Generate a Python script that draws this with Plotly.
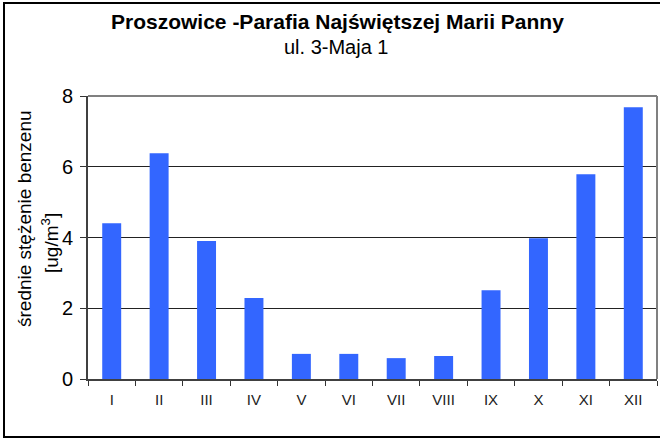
import plotly.graph_objects as go

months = ["I", "II", "III", "IV", "V", "VI", "VII", "VIII", "IX", "X", "XI", "XII"]
benzene = [4.40, 6.38, 3.90, 2.29, 0.71, 0.71, 0.59, 0.65, 2.51, 3.98, 5.79, 7.68]
y_ticks = [0, 2, 4, 6, 8]

title_main = "Proszowice -Parafia Najświętszej Marii Panny"
title_sub = "ul. 3-Maja 1"
y_title_1 = "średnie stężenie benzenu"
y_title_2 = "[ug/m<sup>3</sup>]"

FONT = "Liberation Sans, Arial, sans-serif"

fig = go.Figure(go.Bar(x=months, y=benzene, marker=dict(color="#3366FF", line=dict(width=0)),
                       width=0.4))

W, H = 660, 438
L, R, T, B = 88, 3, 96, 59
pw = W - L - R
ph = H - T - B

def px(x):
    return (x - L) / pw

def py(y):
    return (H - B - y) / ph

fig.update_layout(
    width=W, height=H,
    margin=dict(l=L, r=R, t=T, b=B),
    paper_bgcolor="white", plot_bgcolor="white",
    showlegend=False,
    font=dict(family=FONT, color="black"),
    xaxis=dict(
        type="category", tickson="boundaries", ticks="outside", ticklen=5,
        tickcolor="#333333", tickwidth=1,
        showline=True, linecolor="#404040", linewidth=2,
        showgrid=False, tickfont=dict(size=15, family=FONT, color="#222222"),
        range=[-0.5, 11.5], ticklabelstandoff=6,
    ),
    yaxis=dict(
        range=[0, 8], tickvals=y_ticks, ticks="outside", ticklen=6,
        tickcolor="#333333", tickwidth=1,
        showline=True, linecolor="#404040", linewidth=2,
        showgrid=True, gridcolor="#222222", gridwidth=1,
        tickfont=dict(size=20, family=FONT), zeroline=False,
        ticklabelstandoff=3,
    ),
    shapes=[
        dict(type="line", xref="paper", yref="paper", x0=0, x1=1, y0=1, y1=1,
             line=dict(color="#808080", width=2)),
        dict(type="line", xref="paper", yref="paper", x0=1, x1=1, y0=0, y1=1,
             line=dict(color="#808080", width=2)),
        dict(type="rect", xref="paper", yref="paper",
             x0=px(4), x1=px(665), y0=py(437), y1=py(3),
             line=dict(color="black", width=2), layer="below"),
    ],
    annotations=[
        dict(text="<b>" + title_main + "</b>", xref="paper", yref="paper",
             x=px(337), y=py(22), showarrow=False, font=dict(size=21, family=FONT),
             xanchor="center", yanchor="middle"),
        dict(text=title_sub, xref="paper", yref="paper",
             x=px(336), y=py(47), showarrow=False, font=dict(size=20, family=FONT),
             xanchor="center", yanchor="middle"),
        dict(text=y_title_1, xref="paper", yref="paper", textangle=-90,
             x=px(24), y=py(219), showarrow=False, font=dict(size=19, family=FONT),
             xanchor="center", yanchor="middle"),
        dict(text=y_title_2, xref="paper", yref="paper", textangle=-90,
             x=px(50), y=py(243), showarrow=False, font=dict(size=19, family=FONT),
             xanchor="center", yanchor="middle"),
    ],
)

fig.write_html("out.html", config={"displayModeBar": False},
               post_script="document.body.style.margin='0';document.body.style.overflow='hidden';")
